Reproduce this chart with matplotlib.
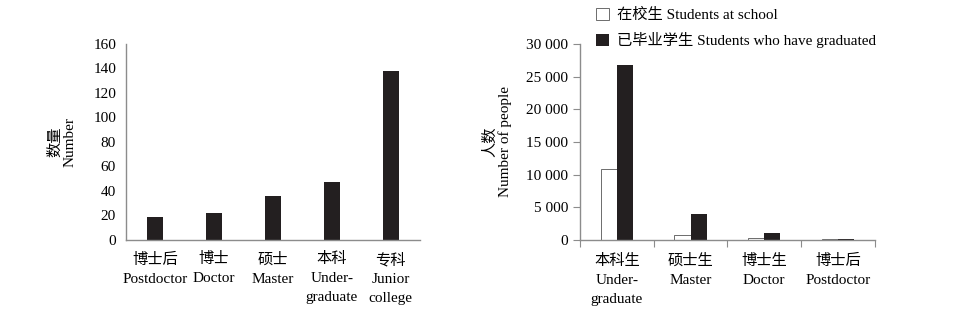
import numpy as np
import matplotlib
matplotlib.use("Agg")
import matplotlib.pyplot as plt
from matplotlib.ticker import FuncFormatter

plt.rcParams['font.family'] = ['Liberation Serif', 'Noto Sans CJK SC']
plt.rcParams['font.size'] = 11

# left chart
levels_a = ["博士后\nPostdoctor", "博士\nDoctor", "硕士\nMaster", "本科\nUnder-\ngraduate", "专科\nJunior\ncollege"]
counts_a = [19, 22, 36, 47, 138]

# right chart
levels_b = ["本科生\nUnder-\ngraduate", "硕士生\nMaster", "博士生\nDoctor", "博士后\nPostdoctor"]
at_school = [10900, 710, 250, 100]
graduated = [26700, 3950, 1020, 150]

bar_col = "#231f20"
spine_col = "#8c8c8c"

fig = plt.figure(figsize=(9.75, 3.3), dpi=100)
ax1 = fig.add_axes([0.129, 0.273, 0.302, 0.594])
ax2 = fig.add_axes([0.595, 0.273, 0.302, 0.594])

for ax in (ax1, ax2):
    for s in ("top", "right"):
        ax.spines[s].set_visible(False)
    for s in ("left", "bottom"):
        ax.spines[s].set_color(spine_col)
        ax.spines[s].set_linewidth(1.0)

x = np.arange(len(levels_a))
ax1.bar(x, counts_a, width=0.28, color=bar_col)
ax1.set_xlim(-0.5, len(levels_a) - 0.5)
ax1.set_ylim(0, 160)
ax1.set_yticks(np.arange(0, 161, 20))
ax1.set_xticks(x)
ax1.set_xticklabels(levels_a, va="top", linespacing=1.6)
ax1.tick_params(length=0, pad=9)
ax1.tick_params(axis="y", pad=7)
ax1.set_ylabel("数量\nNumber", linespacing=1.1, labelpad=12)

x2 = np.arange(len(levels_b))
w = 0.22
ax2.bar(x2 - w / 2, at_school, width=w, color="white", edgecolor="#555555", linewidth=0.6,
        label="在校生 Students at school")
ax2.bar(x2 + w / 2, graduated, width=w, color=bar_col, label="已毕业学生 Students who have graduated")
ax2.set_xlim(-0.5, len(levels_b) - 0.5)
ax2.set_ylim(0, 30000)
ax2.set_yticks(np.arange(0, 30001, 5000))
ax2.yaxis.set_major_formatter(FuncFormatter(lambda v, p: f"{int(v):,}".replace(",", " ")))
ax2.set_xticks(np.arange(-0.5, len(levels_b)), minor=False)
ax2.set_xticklabels([])
ax2.set_xticks(x2, minor=True)
ax2.set_xticklabels(levels_b, minor=True, va="top", linespacing=1.6)
ax2.tick_params(axis="x", which="major", length=5, color=spine_col, direction="out")
ax2.tick_params(axis="x", which="minor", length=0, pad=10)
ax2.tick_params(axis="y", length=5, color=spine_col, direction="out")
ax2.set_ylabel("人数\nNumber of people", linespacing=1.1, labelpad=10)

fig.legend(loc="upper left", bbox_to_anchor=(0.611, 0.977), frameon=False,
           handlelength=0.9, handleheight=0.9, handletextpad=0.5,
           labelspacing=0.65, borderaxespad=0, borderpad=0)

fig.savefig("out.png", dpi=100)
